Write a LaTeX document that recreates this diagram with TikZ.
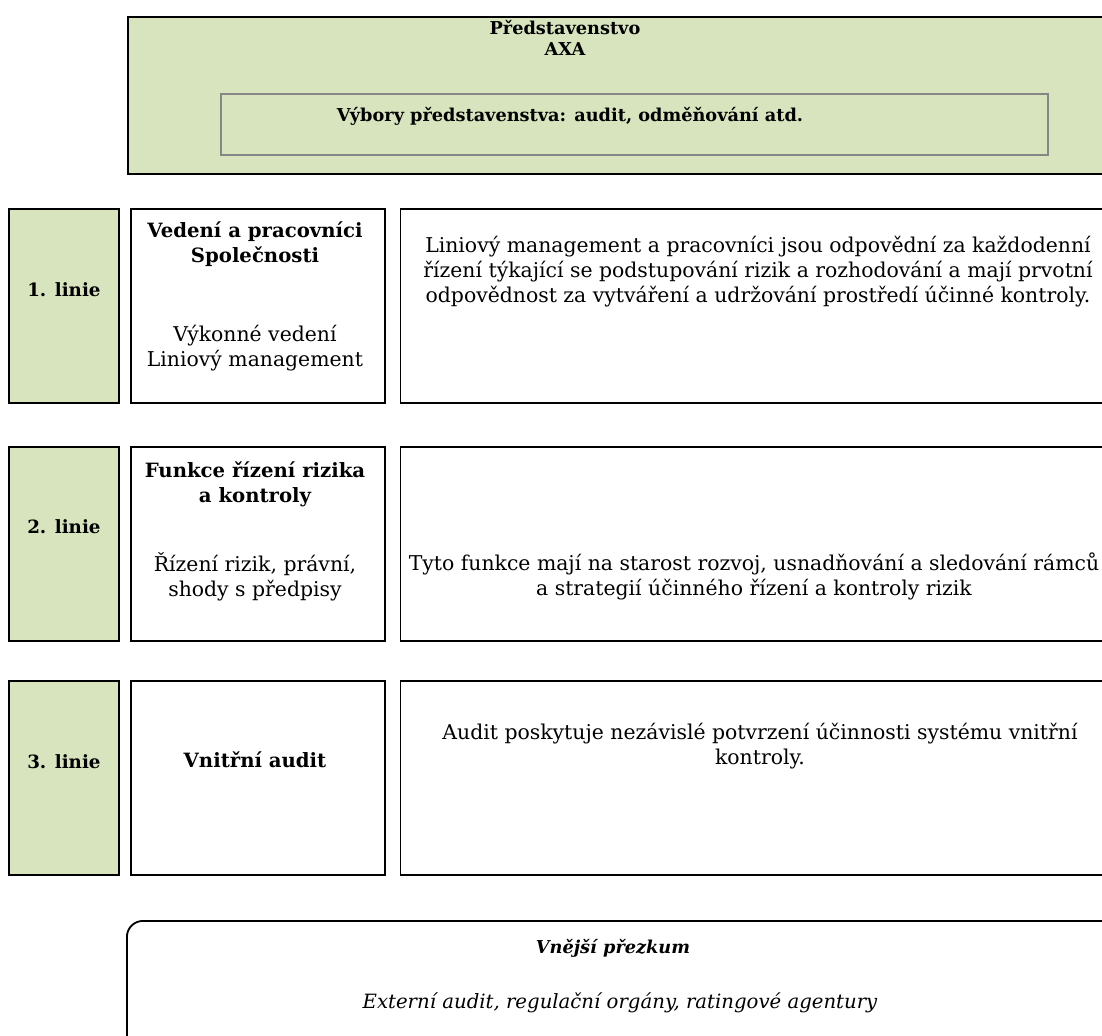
\documentclass[tikz,border=0pt]{standalone}
\usepackage{fontspec}
\setmainfont{DejaVu Serif}
\usetikzlibrary{positioning}
\definecolor{boardgreen}{HTML}{D7E4BD}
\definecolor{committeegray}{HTML}{868686}
\newcommand{\pxl}{0.025cm}
\newcommand{\bodysize}{\fontsize{14.5}{17.8}\selectfont}
\newcommand{\headsize}{\fontsize{14}{17.8}\selectfont}
\newcommand{\boardsize}{\fontsize{12.6}{15.5}\selectfont}
\tikzset{%
	every box/.style={
		draw,
		rectangle,
		line width=1.3pt,
		inner sep=0pt,
		anchor=north west
	},
	line label/.style={
		every box,
		fill=boardgreen,
		minimum width=110*\pxl,
		minimum height=194*\pxl
	},
	unit box/.style={
		every box,
		minimum width=254*\pxl,
		minimum height=194*\pxl
	},
	task box/.style={
		every box,
		minimum width=720*\pxl,
		minimum height=194*\pxl
	},
}

\begin{document}
\begin{tikzpicture}[
			x=0.025cm, y=-0.025cm,
			head text/.style={align=center, inner sep=0pt, font=\headsize\bfseries},
			body text/.style={align=center, inner sep=0pt, font=\bodysize},
			board text/.style={align=center, inner sep=0pt, font=\boardsize\bfseries}
			]
			\useasboundingbox (0,0) rectangle (1102,1035);
			\clip (0,0) rectangle (1102,1035);
			
			% Board
			\node[every box, fill=boardgreen, minimum width=990*\pxl, minimum height=157*\pxl] (board) at (127,16) {};
			\node[every box, draw=committeegray, minimum width=827*\pxl, minimum height=61*\pxl] (committees) at (220,93) {};
			\node[board text] (board-txt) at (565,38) {Představenstvo\\AXA};
			\node[board text] (committees-txt) at (570,116) {Výbory představenstva: audit, odměňování atd.};
			
			% Three lines
			\node[line label] (line1) at (8,208) {};
			\node[unit box, right=10*\pxl of line1.north east, anchor=north west] (unit1) {};
			\node[task box, right=14*\pxl of unit1.north east, anchor=north west] (task1) {};
			
			\node[line label] (line2) at (8,446) {};
			\node[unit box, right=10*\pxl of line2.north east, anchor=north west] (unit2) {};
			\node[task box, right=14*\pxl of unit2.north east, anchor=north west] (task2) {};
			
			\node[line label] (line3) at (8,680) {};
			\node[unit box, right=10*\pxl of line3.north east, anchor=north west] (unit3) {};
			\node[task box, right=14*\pxl of unit3.north east, anchor=north west] (task3) {};
			
			\node[head text, font=\fontsize{13}{16}\selectfont\bfseries] (line1-txt) at ([yshift=16*\pxl]line1.center) {1. linie};
			\node[head text, font=\fontsize{13}{16}\selectfont\bfseries] (line2-txt) at ([yshift=17*\pxl]line2.center) {2. linie};
			\node[head text, font=\fontsize{13}{16}\selectfont\bfseries] (line3-txt) at ([yshift=16*\pxl]line3.center) {3. linie};
			
			\node[head text] (unit1-head) at (255,244) {Vedení a pracovníci\\Společnosti};
			\node[body text] (unit1-sub) at (255,348) {Výkonné vedení\\Liniový management};
			\node[head text] (unit2-head) at (255,484) {Funkce řízení rizika\\a kontroly};
			\node[body text] (unit2-sub) at (255,577) {Řízení rizik, právní,\\shody s předpisy};
			\node[head text] (unit3-head) at (255,760) {Vnitřní audit};
			
			\node[body text] (task1-txt) at (758,272) {Liniový management a pracovníci jsou odpovědní za každodenní\\řízení týkající se podstupování rizik a rozhodování a mají prvotní\\odpovědnost za vytváření a udržování prostředí účinné kontroly.};
			\node[body text] (task2-txt) at (754,576) {Tyto funkce mají na starost rozvoj, usnadňování a sledování rámců\\a strategií účinného řízení a kontroly rizik};
			\node[body text] (task3-txt) at (760,746) {Audit poskytuje nezávislé potvrzení účinnosti systému vnitřní\\kontroly.};
			
			% External review
			\node[every box, rounded corners=0.4cm, minimum width=990*\pxl, minimum height=150*\pxl] (review) at (126,920) {};
			\node[board text, font=\boardsize\bfseries\itshape] (review-head) at (613,948) {Vnější přezkum};
			\node[body text, font=\fontsize{14}{17.8}\selectfont\itshape] (review-sub) at (620,1003) {Externí audit, regulační orgány, ratingové agentury};
			
		\end{tikzpicture}
\end{document}
